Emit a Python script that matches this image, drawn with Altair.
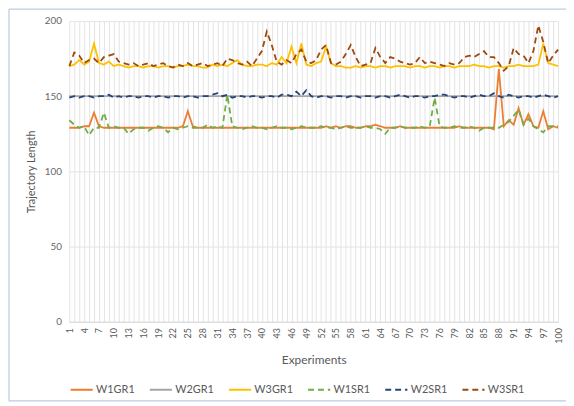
import altair as alt
import pandas as pd

series = ["W1GR1", "W2GR1", "W3GR1", "W1SR1", "W2SR1", "W3SR1"]
colors = ["#ED7D31", "#A5A5A5", "#FFC000", "#70AD47", "#264478", "#9E480E"]
experiments = list(range(1, 101))

w1gr1 = [129, 129, 129, 130, 130, 139, 130, 129, 129, 129,
         129, 129, 129, 129, 129, 129, 129, 129, 129, 129,
         129, 129, 129, 130, 140, 130, 129, 129, 129, 129,
         129, 129, 129, 129, 129, 129, 129, 129, 129, 129,
         129, 129, 129, 129, 129, 129, 129, 129, 129, 129,
         129, 129, 130, 129, 130, 129, 130, 130, 129, 129,
         130, 130, 131, 130, 129, 129, 129, 130, 129, 129,
         129, 129, 129, 129, 129, 129, 129, 129, 129, 130,
         129, 129, 129, 129, 129, 129, 128, 168, 130, 134,
         131, 142, 131, 138, 130, 129, 140, 128, 130, 129]

w2gr1 = [150, 150, 150, 150, 150, 150, 150, 150, 150, 150,
         150, 150, 150, 150, 150, 150, 150, 150, 150, 150,
         150, 150, 150, 150, 150, 150, 150, 150, 150, 150,
         150, 150, 150, 150, 150, 150, 150, 150, 150, 150,
         150, 150, 150, 150, 150, 150, 150, 150, 150, 150,
         150, 150, 150, 150, 150, 150, 150, 150, 150, 150,
         150, 150, 150, 150, 150, 150, 150, 150, 150, 150,
         150, 150, 150, 150, 150, 150, 150, 150, 150, 150,
         150, 150, 150, 150, 150, 150, 150, 150, 150, 150,
         150, 150, 150, 150, 150, 150, 150, 150, 150, 150]

w3gr1 = [170, 171, 174, 171, 173, 185, 172, 171, 173, 170,
         171, 170, 169, 170, 170, 169, 170, 170, 169, 170,
         170, 169, 170, 170, 171, 170, 170, 169, 169, 171,
         170, 171, 170, 172, 174, 171, 170, 170, 171, 171,
         170, 172, 171, 176, 172, 183, 172, 185, 171, 170,
         172, 173, 183, 172, 170, 170, 169, 169, 170, 169,
         170, 170, 169, 170, 170, 169, 170, 170, 170, 169,
         170, 170, 169, 170, 170, 169, 170, 170, 169, 170,
         170, 170, 171, 170, 170, 169, 170, 170, 169, 170,
         170, 171, 170, 170, 170, 171, 185, 172, 171, 170]

w1sr1 = [134, 131, 129, 130, 124, 129, 129, 139, 129, 130,
         129, 129, 125, 128, 129, 129, 127, 129, 130, 129,
         126, 129, 128, 129, 130, 129, 129, 129, 131, 129,
         130, 129, 151, 130, 129, 128, 129, 130, 129, 129,
         128, 129, 130, 129, 129, 128, 129, 130, 129, 129,
         129, 130, 129, 129, 128, 129, 130, 129, 129, 129,
         130, 129, 129, 128, 125, 129, 129, 130, 129, 129,
         129, 130, 129, 130, 149, 130, 129, 129, 130, 129,
         129, 130, 129, 127, 129, 129, 129, 129, 131, 133,
         137, 141, 131, 135, 130, 128, 126, 130, 130, 130]

w2sr1 = [149, 150, 149, 150, 150, 149, 150, 150, 151, 149,
         150, 149, 150, 150, 149, 150, 150, 149, 150, 150,
         149, 150, 150, 149, 150, 150, 149, 150, 150, 151,
         152, 150, 151, 149, 150, 150, 149, 150, 150, 149,
         150, 150, 149, 151, 151, 150, 153, 150, 154, 150,
         149, 150, 150, 149, 150, 150, 149, 150, 150, 149,
         150, 150, 149, 150, 150, 149, 150, 151, 150, 149,
         150, 150, 149, 150, 150, 151, 151, 150, 149, 150,
         150, 149, 150, 151, 150, 150, 152, 150, 149, 151,
         150, 149, 150, 150, 149, 150, 151, 150, 149, 150]

w3sr1 = [170, 179, 177, 172, 174, 175, 172, 176, 177, 178,
         173, 172, 171, 172, 170, 171, 172, 170, 171, 172,
         170, 169, 171, 170, 172, 170, 171, 172, 170, 171,
         172, 170, 175, 174, 172, 171, 173, 170, 175, 180,
         193, 184, 173, 171, 174, 172, 178, 181, 173, 172,
         174, 181, 184, 172, 171, 173, 178, 184, 176, 170,
         171, 172, 182, 176, 172, 176, 175, 173, 172, 171,
         172, 176, 172, 173, 172, 171, 170, 172, 171, 172,
         176, 177, 176, 178, 180, 176, 176, 172, 167, 170,
         182, 178, 177, 172, 180, 197, 186, 172, 177, 181]

values = [w1gr1, w2gr1, w3gr1, w1sr1, w2sr1, w3sr1]
rows = []
for s, vals in zip(series, values):
    for e, v in zip(experiments, vals):
        rows.append({"Experiment": e, "Length": v, "Series": s})
df = pd.DataFrame(rows)

dashes = [[1, 0], [1, 0], [1, 0], [6, 4], [6, 4], [6, 4]]

lines = alt.Chart(df).mark_line(strokeWidth=1.8).encode(
    x=alt.X("Experiment:Q",
            scale=alt.Scale(domain=[1, 100], nice=False, zero=False),
            axis=alt.Axis(title="Experiments", values=experiments,
                          labelExpr="(datum.value - 1) % 3 == 0 ? datum.label : ''",
                          labelAngle=-90, labelFontSize=9, labelColor="#595959",
                          labelPadding=6, ticks=False, domain=True,
                          domainColor="#D9D9D9", grid=True, gridColor="#E4E4E4",
                          titleFontSize=12, titleFontWeight="normal",
                          titleColor="#595959", titlePadding=12, labelFlush=False,
                          labelOverlap=False)),
    y=alt.Y("Length:Q",
            scale=alt.Scale(domain=[0, 200], nice=False),
            axis=alt.Axis(title="Trajectory Length", values=[0, 50, 100, 150, 200],
                          labelFontSize=10, labelColor="#666666", labelPadding=8,
                          ticks=False, domain=False, grid=True, gridColor="#E4E4E4",
                          titleFontSize=11, titleFontWeight="normal",
                          titleColor="#595959", titlePadding=8)),
    color=alt.Color("Series:N", scale=alt.Scale(domain=series, range=colors),
                    legend=alt.Legend(title=None, orient="none", legendX=0, legendY=360,
                                      direction="horizontal", columns=6,
                                      symbolType="stroke", symbolSize=500,
                                      symbolStrokeWidth=2, labelFontSize=11,
                                      labelColor="#595959", labelOffset=2,
                                      columnPadding=10)),
    strokeDash=alt.StrokeDash("Series:N", scale=alt.Scale(domain=series, range=dashes),
                              legend=None),
    detail="Series:N",
)

border = alt.Chart(pd.DataFrame({"a": [0]})).mark_rect(
    filled=False, stroke="#A9BEDD", strokeWidth=1
).encode(x=alt.value(-61), x2=alt.value(520), y=alt.value(-12), y2=alt.value(384))

chart = alt.layer(border, lines).properties(
    width=494, height=304,
    autosize=alt.AutoSizeParams(type="none"),
    padding={"left": 62, "top": 11, "right": 8, "bottom": 81},
).configure(font="Lato").configure_view(strokeWidth=0)

chart.save("out.html", embed_options={"renderer": "svg", "actions": False})
